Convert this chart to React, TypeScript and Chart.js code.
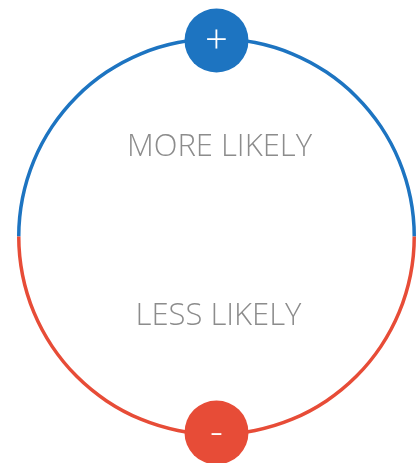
import React, { useEffect, useRef } from "react";
import { Chart, registerables } from "chart.js";

Chart.register(...registerables);

const segmentLabels = ["More likely", "Less likely"];
const segmentValues = [50, 50];
const segmentColors = ["#1d74c1", "#e74c37"];
const badgeLabels = ["+", "-"];
const captionLabels = ["MORE LIKELY", "LESS LIKELY"];

const overlayPlugin = {
  id: "overlay",
  afterDraw(chart: any) {
    const meta = chart.getDatasetMeta(0);
    const arc = meta.data[0];
    if (!arc) return;
    const cx = arc.x;
    const cy = arc.y;
    const r = arc.innerRadius;
    const ctx = chart.ctx;
    ctx.save();
    // captions
    ctx.fillStyle = "#8c8c8c";
    ctx.font = "300 31px 'Open Sans'";
    ctx.textAlign = "center";
    ctx.textBaseline = "alphabetic";
    ctx.fillText(captionLabels[0], cx + 3, cy - 81);
    ctx.fillText(captionLabels[1], cx + 2, cy + 88);
    // badges
    const positions = [cy - r, cy + r];
    for (let i = 0; i < 2; i++) {
      ctx.beginPath();
      ctx.arc(cx, positions[i], 32, 0, Math.PI * 2);
      ctx.fillStyle = segmentColors[i];
      ctx.fill();
      ctx.fillStyle = "#ffffff";
      ctx.font = "300 40px 'Open Sans'";
      ctx.textBaseline = "middle";
      ctx.fillText(badgeLabels[i], cx, positions[i] + 1);
    }
    ctx.restore();
  },
};

export default function App() {
  const ref = useRef<HTMLCanvasElement | null>(null);
  useEffect(() => {
    if (!ref.current) return;
    const chart = new Chart(ref.current, {
      type: "doughnut",
      data: {
        labels: segmentLabels,
        datasets: [
          {
            data: segmentValues,
            backgroundColor: segmentColors,
            borderWidth: 0,
          },
        ],
      },
      options: {
        responsive: false,
        animation: false,
        events: [],
        rotation: -90,
        cutout: 196,
        layout: { padding: { left: 17, right: 2, top: 37, bottom: 27 } },
        plugins: { legend: { display: false }, tooltip: { enabled: false } },
      },
      plugins: [overlayPlugin],
    });
    return () => chart.destroy();
  }, []);
  return (
    <div style={{ position: "absolute", left: 0, top: 0, width: 418, height: 463, background: "#fff" }}>
      <canvas ref={ref} width={418} height={463} />
    </div>
  );
}
